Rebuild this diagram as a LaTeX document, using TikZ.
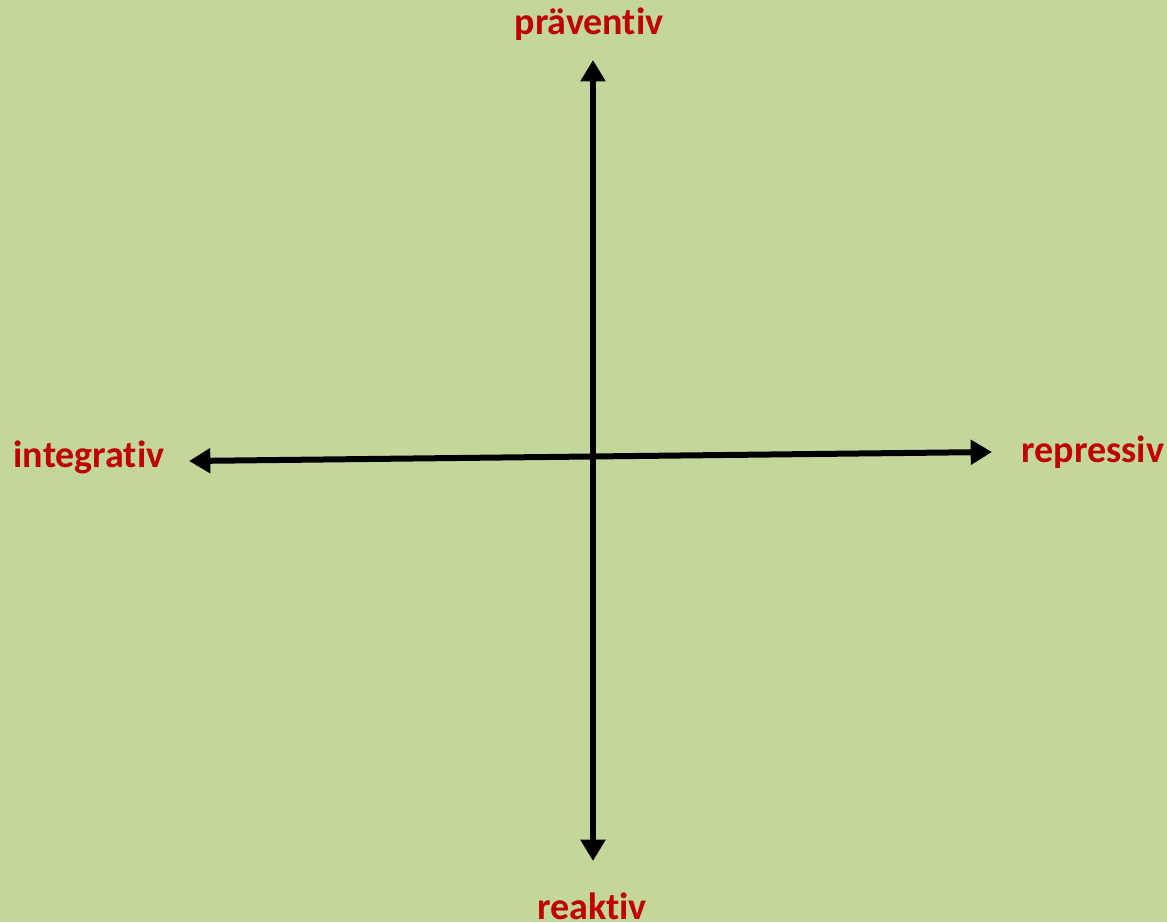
\documentclass[tikz,border=0pt]{standalone}
\usepackage{fontspec}
\setmainfont{Carlito}[Ligatures=NoCommon]
\usetikzlibrary{arrows.meta,positioning}
\definecolor{gruen}{HTML}{C4D79B}
\definecolor{rot}{HTML}{C00000}
\tikzset{
  etikett/.style={text=rot,font=\fontsize{28.5}{32}\selectfont\bfseries,inner sep=0pt},
  achse/.style={{Triangle[length=16pt,width=18pt]}-{Triangle[length=16pt,width=18pt]},line width=4.5pt,color=black},
}
\begin{document}
\begin{tikzpicture}[x=0.75pt,y=-0.75pt]
  \fill[gruen] (0,0) rectangle (1167,922);
  \useasboundingbox (0,0) rectangle (1167,922);
  \coordinate (oben) at (593,60);
  \coordinate (unten) at (593,861);
  \coordinate (links) at (189,461);
  \coordinate (rechts) at (992,452);
  \node[etikett] (praev) at (589,24) {präventiv};
  \node[etikett] (reak) at (592,906) {reaktiv};
  \node[etikett] (integ) at (89,457) {integrativ};
  \node[etikett] (repr) at (1093,452) {repressiv};
  \draw[achse] (oben)--(unten);
  \draw[achse] (links)--(rechts);
\end{tikzpicture}
\end{document}
